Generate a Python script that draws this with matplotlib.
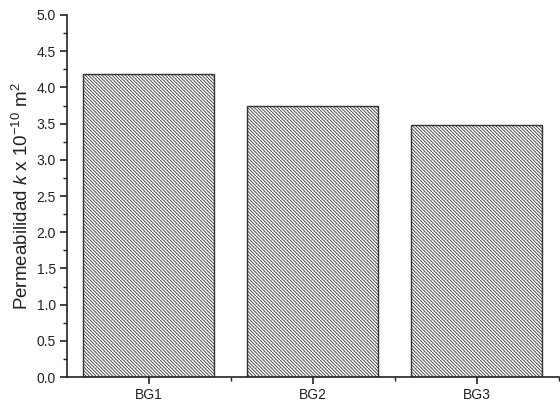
import matplotlib
matplotlib.use("Agg")
import matplotlib.pyplot as plt
from matplotlib.ticker import MultipleLocator, FixedLocator, FormatStrFormatter

# data
muestras = ['BG1', 'BG2', 'BG3']
permeabilidad = [4.19, 3.75, 3.48]

plt.rcParams['font.family'] = ['Liberation Sans', 'DejaVu Sans']
plt.rcParams['mathtext.fontset'] = 'custom'
plt.rcParams['mathtext.rm'] = 'Liberation Sans'
plt.rcParams['mathtext.it'] = 'Liberation Sans:italic'
plt.rcParams['hatch.color'] = '#a2a2a2'
plt.rcParams['hatch.linewidth'] = 0.6

fig = plt.figure(figsize=(5.6, 4.05), dpi=100)
ax = fig.add_axes([0.1196, 0.069, 0.878, 0.894])

pos = list(range(1, len(muestras) + 1))
ax.bar(pos, permeabilidad, width=0.8, color='white', edgecolor='#333333',
       linewidth=1.0, hatch='\\' * 10, zorder=2)

ax.set_xlim(0.5, 3.5)
ax.set_ylim(0, 5.0)
ax.set_xticks(pos)
ax.set_xticklabels(muestras)
ax.xaxis.set_minor_locator(FixedLocator([1.5, 2.5, 3.5]))
ax.yaxis.set_major_locator(MultipleLocator(0.5))
ax.yaxis.set_minor_locator(MultipleLocator(0.25))
ax.yaxis.set_major_formatter(FormatStrFormatter('%.1f'))

for s in ['top', 'right']:
    ax.spines[s].set_visible(False)
for s in ['left', 'bottom']:
    ax.spines[s].set_linewidth(1.2)
    ax.spines[s].set_color('#222222')

ax.tick_params(which='major', direction='out', length=5, width=1.2,
               labelsize=10, colors='#222222', pad=3)
ax.tick_params(which='minor', direction='out', length=3, width=1.0,
               colors='#222222')

ax.set_ylabel('Permeabilidad $\\it{k}$ x 10$^{-10}$ m$^{2}$', fontsize=13.5,
              color='#222222', labelpad=3)

fig.savefig('out.png', dpi=100)
